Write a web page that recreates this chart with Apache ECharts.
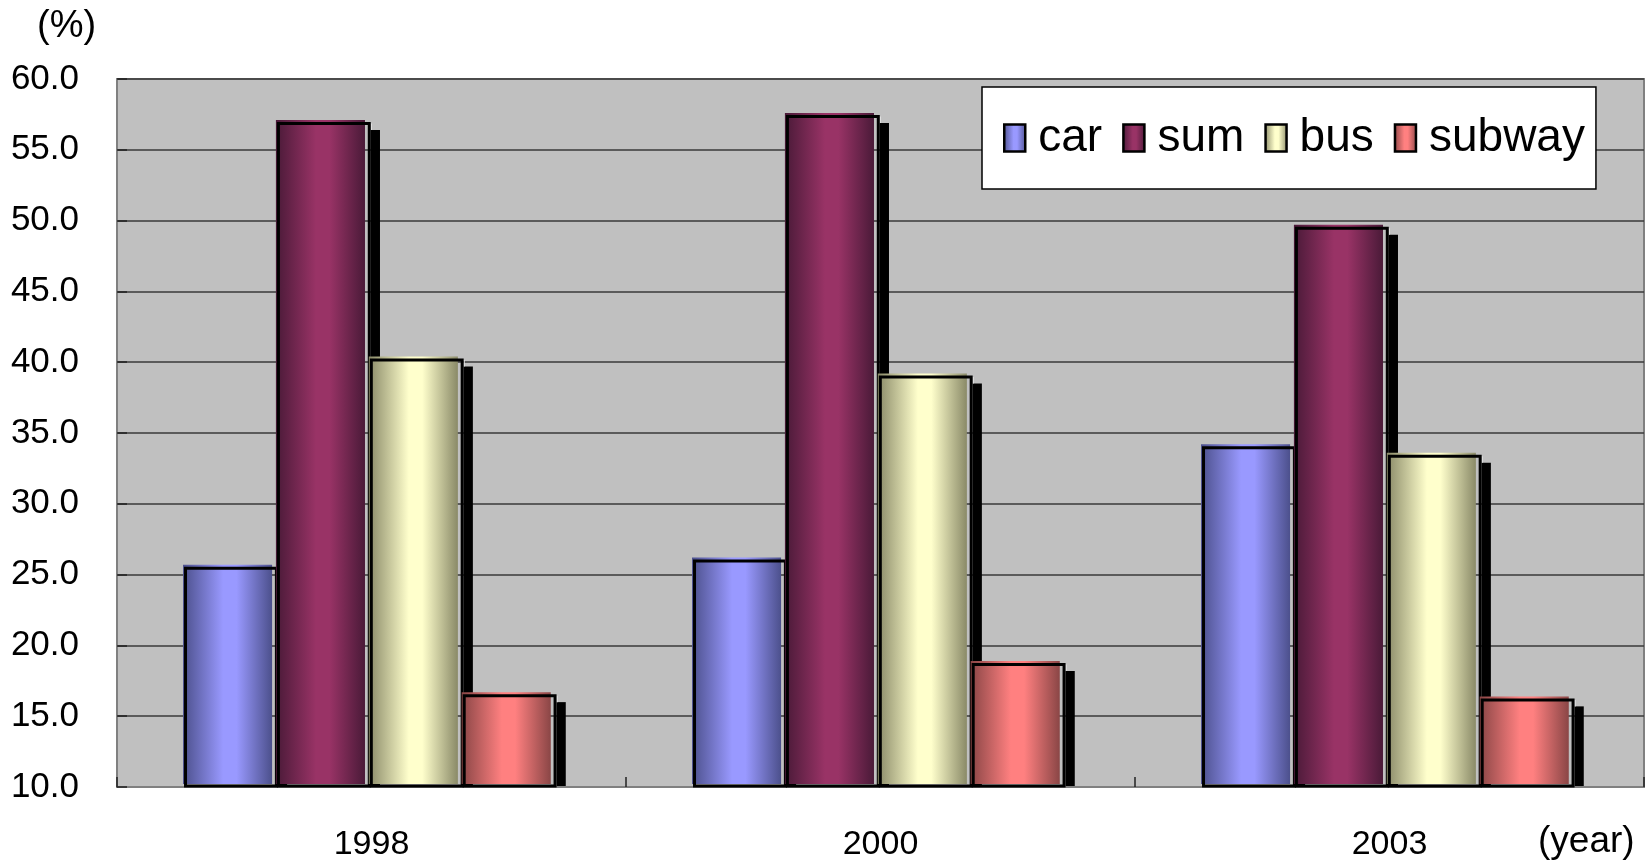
<!DOCTYPE html>
<html>
<head>
<meta charset="utf-8">
<script src="https://cdn.jsdelivr.net/npm/echarts@6/dist/echarts.min.js"></script>
<style>
html,body{margin:0;padding:0;background:#fff;}
#chart{width:1652px;height:864px;}
</style>
</head>
<body>
<div id="chart"></div>
<script>
const categories = ['1998', '2000', '2003'];
const seriesNames = ['car', 'sum', 'bus', 'subway'];
const car = [25.7, 26.2, 34.2];
const sum = [57.1, 57.6, 49.7];
const bus = [40.4, 39.2, 33.6];
const subway = [16.7, 18.9, 16.4];
const yMin = 10, yMax = 60, yInterval = 5;

const seriesValues = [car, sum, bus, subway];
const brightColors = ['#9999ff', '#993366', '#ffffcc', '#ff8080'];
const darkColors = ['#4c508c', '#4a1a38', '#8a8a68', '#8a4646'];

const FONT = "'Liberation Sans', Arial, sans-serif";

function grad(i) {
  return {
    type: 'linear', x: 0, y: 0, x2: 1, y2: 0,
    colorStops: [
      { offset: 0, color: darkColors[i] },
      { offset: 0.45, color: brightColors[i] },
      { offset: 0.6, color: brightColors[i] },
      { offset: 1, color: darkColors[i] }
    ]
  };
}

function renderBar(params, api) {
  const si = params.seriesIndex;
  const ci = api.value(0);
  const v = api.value(1);
  const topPt = api.coord([ci, v]);
  const basePt = api.coord([ci, yMin]);
  const band = api.size([1, 0])[0];
  const barW = band * 0.175;
  const pitch = band * 0.1825;
  const left = topPt[0] - band * 0.3703 + si * pitch;
  const top = topPt[1];
  const bottom = basePt[1];
  const outR = left + barW + 4.3;
  return {
    type: 'group',
    children: [
      { type: 'rect', shape: { x: outR + 1.5, y: top + 10, width: left + barW + 15 - outR - 1.5, height: bottom - top - 11 }, style: { fill: '#000' } },
      { type: 'line', shape: { x1: outR + 2, y1: top + 3.5, x2: outR + 2, y2: top + 10 }, style: { stroke: '#e4e4e4', lineWidth: 1.2 } },
      { type: 'rect', shape: { x: left, y: top, width: barW, height: bottom - top - 3 }, style: { fill: grad(si) } },
      { type: 'rect', shape: { x: left + 2.5, y: top + 3.5, width: barW + 1.8, height: bottom - top - 4.5 }, style: { fill: 'none', stroke: '#000', lineWidth: 3 } }
    ]
  };
}

const chart = echarts.init(document.getElementById('chart'));
chart.setOption({
  backgroundColor: '#fff',
  animation: false,
  grid: {
    left: 117, top: 79, right: 8, bottom: 77,
    show: true, backgroundColor: '#c0c0c0', borderColor: '#808080', borderWidth: 2,
    containLabel: false
  },
  legend: {
    left: 982, top: 87,
    orient: 'horizontal',
    icon: 'rect',
    padding: [28, 11, 28, 21],
    itemGap: 20,
    itemWidth: 21,
    itemHeight: 27,
    backgroundColor: '#fff',
    borderColor: '#000',
    borderWidth: 1.5,
    borderRadius: 0,
    formatter: '{t|{name}}',
    textStyle: {
      fontSize: 46, color: '#000', fontFamily: FONT,
      rich: { t: { fontSize: 46, color: '#000', fontFamily: FONT, padding: [0, 0, 0, 8] } }
    },
    data: seriesNames.map(n => ({ name: n, icon: 'rect', itemStyle: { borderColor: '#000', borderWidth: 2.5 } }))
  },
  xAxis: {
    type: 'category',
    data: categories,
    boundaryGap: true,
    axisLine: { show: true, lineStyle: { color: '#808080', width: 2 } },
    axisTick: { show: true, inside: true, length: 10, alignWithLabel: false, lineStyle: { color: '#222', width: 1.5 } },
    axisLabel: { fontSize: 34, color: '#000', fontFamily: FONT, margin: 41 },
    splitLine: { show: false }
  },
  yAxis: {
    type: 'value',
    min: yMin, max: yMax, interval: yInterval,
    axisLine: { show: true, lineStyle: { color: '#808080', width: 2 } },
    axisTick: { show: true, inside: true, length: 10, lineStyle: { color: '#222', width: 1.5 } },
    axisLabel: { fontSize: 35, color: '#000', fontFamily: FONT, margin: 38, formatter: v => v.toFixed(1) },
    splitLine: { show: true, lineStyle: { color: '#3a3a3a', width: 1.5 } }
  },
  graphic: [
    { type: 'text', left: 37, top: 8, style: { text: '(%)', fill: '#000', font: "38px 'Liberation Sans', Arial, sans-serif" } },
    { type: 'text', left: 1538, top: 823, style: { text: '(year)', fill: '#000', font: "37px 'Liberation Sans', Arial, sans-serif" } }
  ],
  series: seriesNames.map((n, i) => ({
    name: n,
    type: 'custom',
    renderItem: renderBar,
    itemStyle: { color: grad(i) },
    encode: { x: 0, y: 1 },
    data: seriesValues[i].map((v, ci) => [ci, v])
  }))
});
</script>
</body>
</html>
